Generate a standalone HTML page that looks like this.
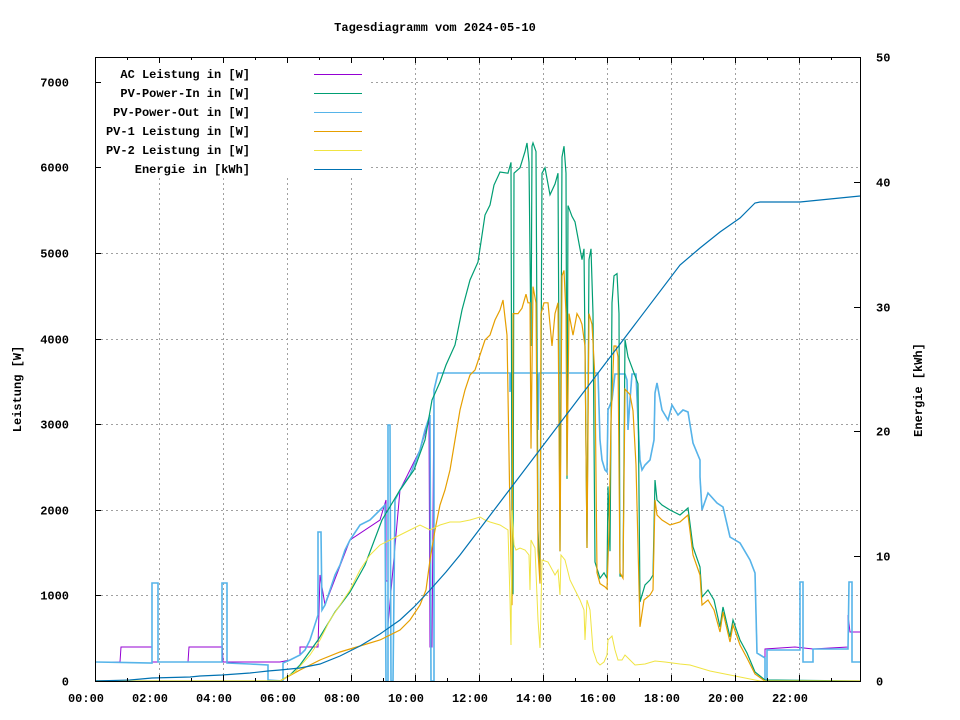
<!DOCTYPE html>
<html><head><meta charset="utf-8"><style>
html,body{margin:0;padding:0;background:#fff}
svg{display:block}
text{font-family:"Liberation Mono",monospace;font-size:12px;font-weight:bold;fill:#000}
</style></head><body>
<svg id="s" width="960" height="720" viewBox="0 0 960 720" xmlns="http://www.w3.org/2000/svg">
<rect width="960" height="720" fill="#fff"/>
<g id="grid" stroke="#a0a0a0" stroke-width="1" stroke-dasharray="2,3"></g>
<g id="series" fill="none" stroke-width="1" stroke-linejoin="miter"></g>
<rect x="96" y="58" width="274" height="120" fill="#fff"/>
<g id="legend"></g>
<rect x="95.5" y="57.5" width="765" height="624" fill="none" stroke="#000" stroke-width="1"/>
<g id="ticks" stroke="#000" stroke-width="1"></g>
<g id="labels"></g>
<text x="435" y="31" text-anchor="middle">Tagesdiagramm vom 2024-05-10</text>
<text transform="translate(21,389) rotate(-90)" text-anchor="middle">Leistung [W]</text>
<text transform="translate(922,390) rotate(-90)" text-anchor="middle">Energie [kWh]</text>
</svg>
<script>
var NS="http://www.w3.org/2000/svg";
function el(p,n,a,t){var e=document.createElementNS(NS,n);for(var k in a)e.setAttribute(k,a[k]);if(t!==undefined)e.textContent=t;document.getElementById(p).appendChild(e);return e;}
var X=function(h){return 94.5+32*h;};
for(var h=2;h<24;h+=2){var x=Math.round(X(h))+0.5;el("grid","line",{x1:x,y1:58,x2:x,y2:681});}
for(var k=1;k<=7;k++){var y=Math.round(681-85.6*k)+0.5;el("grid","line",{x1:96,y1:y,x2:860,y2:y});}
for(var h=0;h<24;h++){var x=Math.round(X(h))+0.5;var L=(h%2==0)?6:3;
 el("ticks","line",{x1:x,y1:681,x2:x,y2:681-L});el("ticks","line",{x1:x,y1:57,x2:x,y2:57+L});
 if(h%2==0){var lb=(h<10?"0":"")+h+":00";el("labels","text",{x:Math.round(X(h))-9,y:702,"text-anchor":"middle"},lb);}}
for(var k=0;k<=7;k++){var y=Math.round(681-85.6*k)+0.5;el("ticks","line",{x1:95,y1:y,x2:101,y2:y});
 el("labels","text",{x:69,y:y+4,"text-anchor":"end"},String(k*1000));}
for(var k=0;k<=5;k++){var y=Math.round(681-124.8*k)+0.5;el("ticks","line",{x1:860,y1:y,x2:854,y2:y});
 el("labels","text",{x:876,y:y+4},String(k*10));}
var leg=[["AC Leistung in [W]","#9400d3"],["PV-Power-In in [W]","#009e73"],["PV-Power-Out in [W]","#56b4e9"],["PV-1 Leistung in [W]","#e69f00"],["PV-2 Leistung in [W]","#f0e442"],["Energie in [kWh]","#0072b2"]];
leg.forEach(function(l,i){var y=74+i*19;el("legend","text",{x:250,y:y+4,"text-anchor":"end"},l[0]);
 el("legend","line",{x1:314,y1:y+0.5,x2:362,y2:y+0.5,stroke:l[1],"stroke-width":1});});
function T(y){return 130+1.08*(y-130);}
function poly(pts,color,w,tr){var s=pts.map(function(p){var y=p[1];if(tr&&p[0]>=505&&p[0]<=640)y=T(y);return p[0]+","+y;}).join(" ");
 el("series","polyline",{points:s,stroke:color,"stroke-width":w||1});}
var mid=[[438,373],[510,373],[510,392],[511,373],[537,373],[538,430],[539,373],[598,373],[600,440],[602,460],[605,470],[607,472],[608,410],[612,400],[615,374],[625,374],[627,380],[628,430],[630,400],[632,374],[636,374],[638,420],[640,460],[642,470],[645,465],[650,460],[654,440],[655,393],[657,383],[662,410],[668,420],[672,405],[678,415],[683,410],[688,412],[693,443],[700,460],[700,477],[702,510],[708,493],[717,503],[723,507],[730,537],[740,543],[750,560],[755,573],[757,653],[765,658]];
var ac=[[95,662],[120,662],[121,647],[152,647],[152,662],[188,662],[189,647],[222,647],[222,640],[223,662],[280,662],[290,660],[300,655],[300,647],[318,647],[320,575],[325,605],[350,540],[380,520],[386,500],[386,581],[388,581],[388,625],[400,490],[420,450],[429,420],[430,647],[432,647],[434,390]].concat(mid).concat([[765,649],[795,647],[813,649],[848,647],[848,615],[850,632],[860,632]]);
poly(ac,"#9400d3",1,false);
var pvout=[[95,662],[152,663],[152,583],[158,583],[158,662],[222,662],[222,583],[227,583],[227,663],[250,664],[268,665],[268,680],[283,681],[283,663],[290,660],[300,655],[305,650],[310,640],[318,615],[318,532],[321,532],[322,610],[325,605],[330,590],[335,575],[340,565],[345,550],[350,540],[360,525],[370,520],[380,510],[385,505],[386,681],[388,681],[388,425],[390,425],[391,681],[393,681],[395,500],[400,490],[410,475],[420,450],[425,430],[430,415],[431,681],[434,681],[434,390]].concat(mid).concat([[765,681],[767,681],[767,650],[800,650],[800,582],[803,582],[803,662],[813,662],[813,649],[848,649],[849,582],[852,582],[852,662],[860,662]]);
poly(pvout,"#56b4e9",1.6,false);
var green=[[95,681],[280,681],[290,675],[300,665],[318,640],[335,612],[350,592],[365,565],[382,520],[400,490],[414,470],[425,440],[432,400],[440,382],[446,365],[455,345],[462,310],[470,280],[478,262],[485,215],[490,205],[494,185],[500,172],[508,170],[511,160],[512,513],[513,560],[514,170],[520,165],[525,150],[527,142],[529,160],[531,330],[532,145],[533,142],[536,150],[538,500],[540,547],[542,170],[545,165],[550,190],[555,180],[558,170],[560,520],[562,155],[564,145],[566,170],[567,453],[568,200],[572,210],[575,215],[578,230],[582,250],[584,240],[587,517],[589,250],[591,240],[593,300],[595,530],[600,545],[604,540],[607,545],[608,460],[610,520],[612,290],[614,265],[617,263],[619,300],[620,543],[623,543],[625,324],[628,340],[632,350],[636,360],[638,365],[640,567],[645,585],[650,580],[653,575],[655,480],[657,500],[662,505],[670,510],[680,515],[688,508],[693,547],[700,567],[702,597],[708,590],[714,600],[720,627],[723,607],[730,637],[733,620],[740,640],[747,653],[755,672],[765,680],[860,681]];
poly(green,"#009e73",1.2,true);
var orange=[[95,681],[280,681],[300,670],[320,660],[340,652],[360,646],[380,640],[400,630],[410,620],[420,605],[426,590],[430,560],[435,530],[440,505],[445,490],[450,470],[455,440],[460,410],[465,390],[470,375],[475,370],[480,355],[485,340],[490,335],[495,320],[500,310],[503,300],[507,320],[510,485],[512,570],[513,300],[518,300],[522,295],[526,282],[528,290],[530,290],[531,425],[533,275],[536,290],[538,520],[540,550],[541,300],[544,290],[548,290],[552,330],[555,300],[558,290],[560,520],[562,265],[564,260],[566,300],[567,450],[569,300],[573,320],[577,300],[580,305],[582,310],[585,330],[587,517],[589,300],[592,310],[595,360],[597,540],[600,550],[605,553],[607,555],[609,500],[611,400],[614,330],[616,330],[618,340],[620,540],[623,545],[625,370],[630,375],[633,390],[636,440],[640,590],[644,600],[650,595],[653,590],[655,500],[657,515],[662,520],[670,525],[680,522],[688,515],[693,555],[700,575],[702,605],[708,600],[714,610],[720,632],[723,612],[730,642],[733,625],[740,645],[747,658],[755,674],[765,681],[860,681]];
poly(orange,"#e69f00",1.2,true);
var yellow=[[95,681],[280,681],[295,672],[310,655],[320,640],[330,620],[340,605],[350,590],[360,570],[370,555],[380,545],[390,540],[400,535],[410,530],[420,525],[430,530],[440,525],[450,522],[460,522],[470,520],[480,517],[485,520],[490,522],[500,525],[508,530],[510,600],[511,645],[512,510],[514,545],[516,550],[520,548],[525,550],[529,555],[530,590],[531,540],[535,548],[538,620],[540,648],[542,560],[548,562],[555,575],[558,570],[560,595],[561,555],[565,560],[570,580],[575,590],[580,600],[584,610],[585,640],[587,600],[590,610],[593,650],[597,662],[600,665],[604,662],[607,655],[608,640],[612,636],[615,650],[618,660],[622,660],[625,655],[630,660],[635,665],[645,664],[655,661],[665,662],[680,664],[690,665],[710,671],[730,675],[750,679],[760,681],[860,681]];
poly(yellow,"#f0e442",1,false);
var en=[[95,681],[130,680],[152,678],[190,677],[200,676],[222,675],[250,673],[268,671],[280,670],[300,668],[320,664],[340,656],[360,646],[380,634],[400,620],[414,607],[430,590],[446,572],[460,555],[680,265],[700,248],[720,232],[740,218],[755,203],[760,202],[800,202],[830,199],[860,196]];
poly(en,"#0072b2",1.2,false);
</script>
</body></html>
